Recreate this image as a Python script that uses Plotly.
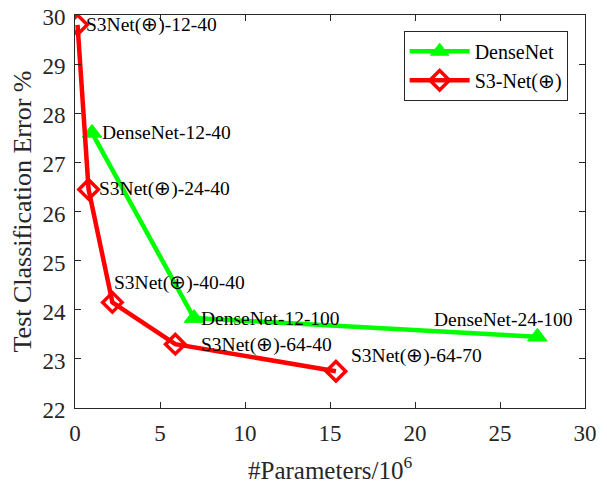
import plotly.graph_objects as go

dense_x = [1.0, 7.0, 27.2]
dense_y = [27.6, 23.83, 23.45]
dense_labels = ["DenseNet-12-40", "DenseNet-12-100", "DenseNet-24-100"]

s3_x = [0.15, 0.8, 2.2, 5.9, 15.35]
s3_y = [29.8, 26.45, 24.15, 23.3, 22.75]
s3_labels = ["S3Net(⊕)-12-40", "S3Net(⊕)-24-40", "S3Net(⊕)-40-40", "S3Net(⊕)-64-40", "S3Net(⊕)-64-70"]

x_title = "#Parameters/10<sup>6</sup>"
y_title = "Test Classification Error %"

FONT = "Liberation Serif, Times New Roman, serif"
AX = "#262626"

fig = go.Figure()
fig.add_trace(go.Scatter(x=dense_x, y=dense_y, mode="lines+markers", name="DenseNet",
                         line=dict(color="#00ff00", width=4.5),
                         marker=dict(symbol="triangle-up", size=17, color="#00ff00",
                                     line=dict(color="#00ff00", width=1))))
fig.add_trace(go.Scatter(x=s3_x, y=s3_y, mode="lines+markers", name="S3-Net(⊕)",
                         line=dict(color="#ff0000", width=4.5),
                         marker=dict(symbol="diamond-open", size=15, color="#ff0000",
                                     line=dict(color="#ff0000", width=3.5))))

dense_off = [(8, 0, "left"), (5, 0, "left"), (-34, 17, "center")]
s3_off = [(6, 0, "left"), (8, 0, "left"), (0, 19, "left"), (24, -1, "left"), (13, 15, "left")]

for xs, ys, labs, offs in [(dense_x, dense_y, dense_labels, dense_off), (s3_x, s3_y, s3_labels, s3_off)]:
    for x, y, t, (dx, dy, anc) in zip(xs, ys, labs, offs):
        fig.add_annotation(x=x, y=y, text=t, showarrow=False, xanchor=anc, yanchor="middle",
                           xshift=dx, yshift=dy, font=dict(family=FONT, size=19.5, color="black"))

fig.add_annotation(xref="paper", yref="paper", x=0.5, y=-0.152, text=x_title, showarrow=False,
                   xanchor="center", yanchor="middle", font=dict(family=FONT, size=25, color=AX))
fig.add_annotation(xref="paper", yref="paper", x=-0.102, y=0.5, text=y_title, showarrow=False,
                   textangle=-90, xanchor="center", yanchor="middle",
                   font=dict(family=FONT, size=26, color=AX))

axis_common = dict(showline=True, linecolor=AX, linewidth=1, mirror="ticks",
                   ticks="inside", ticklen=6, tickcolor=AX, showgrid=False, zeroline=False,
                   automargin=False, ticklabeloverflow="allow",
                   tickfont=dict(family=FONT, size=23, color=AX))

fig.update_xaxes(range=[0, 30], dtick=5, ticklabelstandoff=4, **axis_common)
fig.update_yaxes(range=[22, 30], dtick=1, ticklabelstandoff=4, ticklabelshift=2, **axis_common)

# the page body adds an 8px margin, so the figure is 8px smaller and margins shifted
fig.update_layout(width=599, height=475, margin=dict(l=67, r=22, t=7, b=75, autoexpand=False),
                  plot_bgcolor="white", paper_bgcolor="white",
                  showlegend=True,
                  legend=dict(x=0.966, y=0.96, xanchor="right", yanchor="top",
                              bgcolor="white", bordercolor=AX, borderwidth=1,
                              font=dict(family=FONT, size=20, color="black"),
                              itemwidth=60, tracegroupgap=0))
fig.write_html("out.html")
